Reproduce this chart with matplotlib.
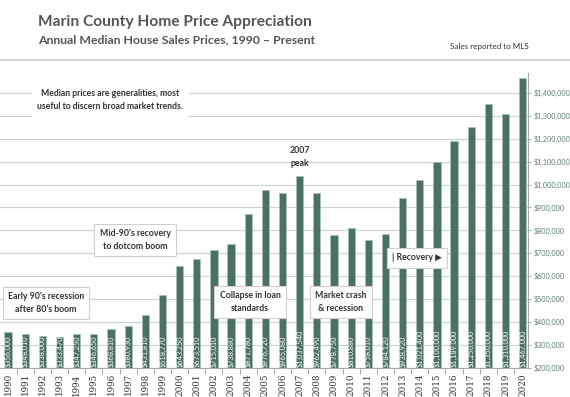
import numpy as np
import matplotlib.pyplot as plt
from matplotlib.ticker import FuncFormatter, MultipleLocator, FixedLocator

years = list(range(1990, 2021))
prices = [356000, 348010, 338000, 333470, 347250, 346650, 368810, 380930,
          431810, 518770, 643250, 673510, 715010, 738880, 871780, 976720,
          965080, 1037540, 962490, 778750, 810880, 758010, 784120, 938920,
          1021400, 1100000, 1189000, 1250000, 1350000, 1310000, 1467000]

bar_color = '#4b7161'
grey_text = '#555555'

plt.rcParams['font.family'] = ['Lato', 'DejaVu Sans']

fig = plt.figure(figsize=(5.7, 3.97), dpi=100)
ax = fig.add_axes([0.0, 0.074, 0.926, 0.742])

x = np.arange(len(years))
bars = ax.bar(x, prices, width=0.42, color=bar_color, edgecolor='#a9c3cc',
              linewidth=0.4, zorder=3, bottom=0)

# value labels inside the bars, clipped to the bar
for b, p in zip(bars, prices):
    t = ax.text(b.get_x() + b.get_width() / 2, 203000, '${:,}'.format(p),
                rotation=90, ha='center', va='bottom', color='white',
                fontsize=5.3, zorder=4)
    t.set_clip_path(b)

ax.set_ylim(200000, 1487000)
ax.set_xlim(-0.47, 30.3)

ax.yaxis.tick_right()
ax.yaxis.set_major_locator(MultipleLocator(100000))
ax.yaxis.set_major_formatter(FuncFormatter(lambda v, pos: '${:,.0f}'.format(v)))
ax.tick_params(axis='y', labelsize=5.1, labelcolor='#5d7a70', color='#999999',
               length=2.5, width=0.6, pad=2)
ax.grid(axis='y', color='#c9d6da', linewidth=0.9, zorder=0)

ax.set_xticks(x)
ax.set_xticklabels([str(y) for y in years], rotation=90, fontsize=6.3,
                   color='#333333', family=['DejaVu Serif'])
ax.tick_params(axis='x', length=0, pad=4)
ax.xaxis.set_minor_locator(FixedLocator(x[:-1] + 0.5))
ax.tick_params(axis='x', which='minor', length=4, color='#999999', width=0.6)

for s in ['top', 'left']:
    ax.spines[s].set_visible(False)
ax.spines['bottom'].set_color('#aaaaaa')
ax.spines['right'].set_color('#aaaaaa')
ax.spines['bottom'].set_linewidth(0.8)
ax.spines['right'].set_linewidth(0.8)

# titles
fig.text(38 / 570, 1 - 22 / 397, 'Marin County Home Price Appreciation',
         fontsize=11.2, fontweight='bold', color=grey_text, va='center')
fig.text(38 / 570, 1 - 40 / 397, 'Annual Median House Sales Prices, 1990 \u2013 Present',
         fontsize=8.8, fontweight='bold', color=grey_text, va='center')
fig.text(450 / 570, 1 - 47 / 397, 'Sales reported to MLS', fontsize=5.8,
         color='#333333', va='center')
fig.add_artist(plt.Line2D([0, 1], [1 - 60 / 397, 1 - 60 / 397],
                          color='#cccccc', linewidth=1.2))

# annotation boxes
def note(px, py, txt, border=True, fs=6.3, ha='center'):
    ec = '#cfcfcf' if border else 'white'
    ax.text(px / 570 / 0.926, (397 - py - 0.074 * 397) / (0.742 * 397), txt,
            transform=ax.transAxes, ha=ha, va='center', fontsize=fs,
            color='#333333', fontweight='bold', linespacing=1.5, zorder=6,
            bbox=dict(boxstyle='square,pad=0.6', fc='white', ec=ec, lw=0.8))

note(110, 100, 'Median prices are generalities, most\nuseful to discern broad market trends.',
     border=False, fs=6.2)
note(135, 240, "Mid-90\u2019s recovery\nto dotcom boom")
note(46, 303, "Early 90\u2019s recession\nafter 80\u2019s boom")
note(250, 302, 'Collapse in loan\nstandards')
note(341, 302, 'Market crash\n& recession')
note(417, 258, '| Recovery \u25b6')
ax.text(17, 1120000, '2007\npeak', ha='center', va='center', fontsize=6.3,
        color='#333333', fontweight='bold', linespacing=1.5, zorder=6)

fig.savefig('out.png', dpi=100)
